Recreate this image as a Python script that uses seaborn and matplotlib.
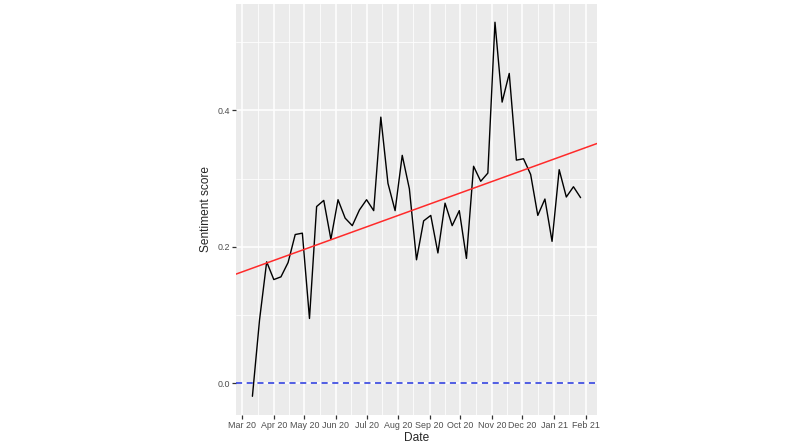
import numpy as np
import pandas as pd
import matplotlib
matplotlib.use("Agg")
import matplotlib.pyplot as plt
import matplotlib.dates as mdates
import seaborn as sns

# weekly sentiment scores
start_date = "2020-03-11"
scores = [
    -0.019, 0.093, 0.178, 0.152, 0.156, 0.177, 0.218, 0.220, 0.095, 0.259,
    0.268, 0.211, 0.269, 0.242, 0.231, 0.254, 0.269, 0.253, 0.390, 0.293,
    0.253, 0.334, 0.285, 0.181, 0.238, 0.246, 0.191, 0.264, 0.231, 0.253,
    0.183, 0.318, 0.296, 0.308, 0.529, 0.412, 0.454, 0.327, 0.329, 0.306,
    0.246, 0.270, 0.208, 0.313, 0.273, 0.288, 0.272,
]
dates = pd.date_range(start_date, periods=len(scores), freq="7D")
df = pd.DataFrame({"Date": dates, "score": scores})

sns.set_theme(style="darkgrid", rc={
    "axes.facecolor": "#EBEBEB",
    "grid.color": "white",
    "axes.edgecolor": "#EBEBEB",
})
plt.rcParams["font.family"] = ["Liberation Sans", "DejaVu Sans"]

fig = plt.figure(figsize=(8, 4.43), dpi=100)
ax = fig.add_axes([0.295, 0.0632, 0.45125, 0.9288])

sns.lineplot(data=df, x="Date", y="score", color="black", linewidth=1.0, ax=ax)

# ggplot-like 5% expansion
xnum = mdates.date2num(df["Date"])
xpad = (xnum.max() - xnum.min()) * 0.05
ax.set_xlim(xnum.min() - xpad, xnum.max() + xpad)
ypad = (df["score"].max() - df["score"].min()) * 0.05
ax.set_ylim(df["score"].min() - ypad, df["score"].max() + ypad)

# linear trend over full width
slope, intercept = np.polyfit(xnum, df["score"], 1)
ax.axline((xnum.min(), intercept + slope * xnum.min()), slope=slope,
          color="#FF2A2A", linewidth=1.1, zorder=3)
ax.axhline(0, color="#2233DD", linestyle=(0, (4, 3)), linewidth=1.1, zorder=3)

ax.xaxis.set_major_locator(mdates.MonthLocator())
ax.xaxis.set_minor_locator(mdates.MonthLocator(bymonthday=16))
ax.xaxis.set_major_formatter(mdates.DateFormatter("%b %y"))
ax.set_yticks([0.0, 0.2, 0.4])
ax.set_yticks([0.1, 0.3, 0.5], minor=True)
ax.yaxis.set_major_formatter(lambda v, _: f"{v:.1f}")

ax.grid(which="major", color="white", linewidth=1.1)
ax.grid(which="minor", color="white", linewidth=0.55)
ax.tick_params(which="major", length=3, width=0.9, color="#333333",
               labelsize=6.4, labelcolor="#4D4D4D", pad=1.5, bottom=True, left=True)
ax.tick_params(which="minor", length=0)
for s in ax.spines.values():
    s.set_visible(False)

ax.set_xlabel("Date", fontsize=8.6, labelpad=1)
ax.set_ylabel("Sentiment score", fontsize=8.6, labelpad=4)

fig.savefig("out.png", dpi=100)
